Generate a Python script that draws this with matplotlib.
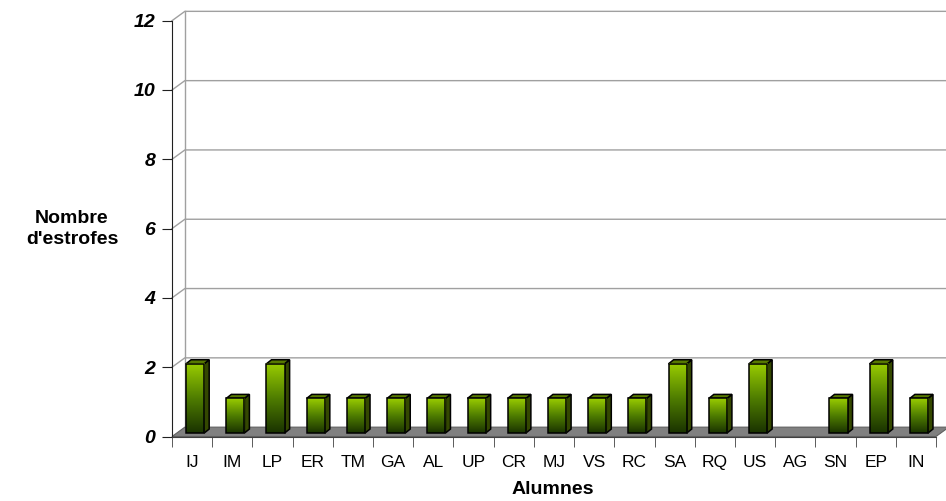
import numpy as np
import matplotlib.pyplot as plt
from matplotlib.patches import Polygon
from matplotlib.colors import LinearSegmentedColormap

# estrofes per alumne
alumnes = ["IJ", "IM", "LP", "ER", "TM", "GA", "AL", "UP", "CR", "MJ",
           "VS", "RC", "SA", "RQ", "US", "AG", "SN", "EP", "IN"]
estrofes = [2, 1, 2, 1, 1, 1, 1, 1, 1, 1, 1, 1, 2, 1, 2, 0, 1, 2, 1]
y_ticks = [0, 2, 4, 6, 8, 10, 12]

plt.rcParams['font.family'] = ['Liberation Sans', 'DejaVu Sans']

fig = plt.figure(figsize=(9.46, 5.01), dpi=100)
W, H = 946, 501
ax = fig.add_axes([172 / W, (H - 436.5) / H, (936 - 172) / W, (436.5 - 20.7) / H])
n = len(alumnes)
xmin, xmax = -0.5, n - 0.5
ymax = y_ticks[-1]

# fake 3d depth (data units): back wall, bar offset, bar depth
bx, by = 0.32, 0.27
ox, oy = 0.075, 0.10
dx, dy = 0.125, 0.115
bw = 0.45

grid_col = "#a0a0a0"
# back wall + left wall gridlines
for v in y_ticks[1:]:
    ax.plot([xmin, xmin + bx, xmax + bx], [v, v + by, v + by],
            color=grid_col, lw=1, clip_on=False, zorder=1)
ax.plot([xmin + bx, xmin + bx], [by, ymax + by], color=grid_col, lw=1,
        clip_on=False, zorder=1)

# floor
floor = Polygon([(xmin, 0), (xmax, 0), (xmax + bx, by), (xmin + bx, by)],
                closed=True, facecolor="#808080", edgecolor="#606060",
                lw=0.8, clip_on=False, zorder=2)
ax.add_patch(floor)

green = LinearSegmentedColormap.from_list("green", ["#1a3300", "#4f7d00", "#99cc00"])
grad = np.linspace(0, 1, 100).reshape(-1, 1)

for i, v in enumerate(estrofes):
    if v <= 0:
        continue
    x0 = i - bw / 2 + ox
    x1 = x0 + bw
    y0 = oy
    y1 = v + oy
    # side face
    ax.add_patch(Polygon([(x1, y0), (x1 + dx, y0 + dy), (x1 + dx, y1 + dy), (x1, y1)],
                         closed=True, facecolor="#344800", edgecolor="black",
                         lw=1.1, zorder=4))
    # top face
    ax.add_patch(Polygon([(x0, y1), (x0 + dx, y1 + dy), (x1 + dx, y1 + dy), (x1, y1)],
                         closed=True, facecolor="#587a00", edgecolor="black",
                         lw=1.1, zorder=4))
    # front face with gradient
    ax.imshow(grad, cmap=green, origin="lower", extent=(x0, x1, y0, y1),
              aspect="auto", zorder=4, interpolation="bilinear")
    ax.add_patch(Polygon([(x0, y0), (x1, y0), (x1, y1), (x0, y1)], closed=True,
                         facecolor="none", edgecolor="black", lw=1.1, zorder=5))

ax.set_xlim(xmin, xmax)
ax.set_ylim(0, ymax)

for s in ["top", "right"]:
    ax.spines[s].set_visible(False)
ax.spines["left"].set_color("#202020")
ax.spines["bottom"].set_color("#404040")
ax.spines["left"].set_zorder(6)
ax.spines["bottom"].set_zorder(6)

ax.set_yticks(y_ticks)
ax.set_yticklabels([str(t) for t in y_ticks], fontsize=14, fontweight="bold",
                   fontstyle="italic")
ax.tick_params(axis="y", length=7, pad=5, color="#202020")

ax.set_xticks(range(n))
ax.set_xticklabels(alumnes, fontsize=12.5)
ax.set_xticks(np.arange(n + 1) - 0.5, minor=True)
ax.tick_params(axis="x", which="major", length=0, pad=13)
ax.tick_params(axis="x", which="minor", length=7, color="#404040")

fig.text(553 / W, 1 - 490 / H, "Alumnes", ha="center", va="center",
         fontsize=14, fontweight="bold")
fig.text(72 / W, 1 - 229 / H, "Nombre\nd'estrofes", ha="center", va="center",
         fontsize=14, fontweight="bold", linespacing=1.3)

fig.savefig("out.png", dpi=100)
